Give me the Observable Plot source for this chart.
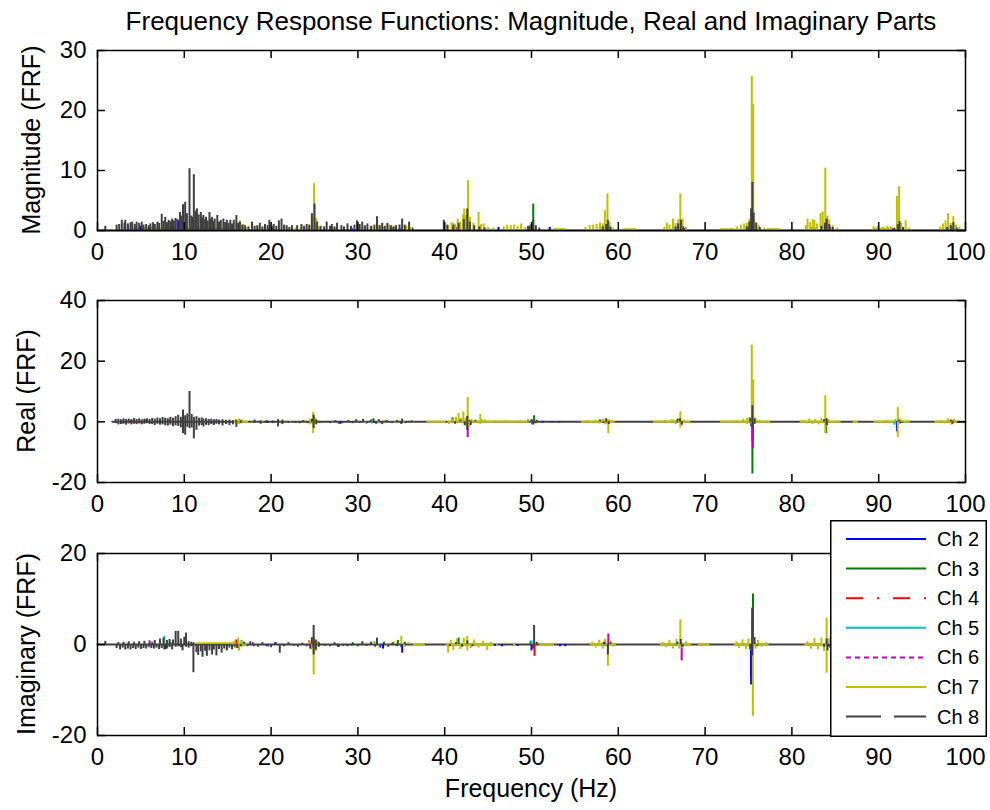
<!DOCTYPE html>
<html><head><meta charset="utf-8">
<script src="https://cdn.jsdelivr.net/npm/d3@7"></script>
<script src="https://cdn.jsdelivr.net/npm/@observablehq/plot@0.6"></script>
<style>
body{margin:0;background:#fff;}
#fig{position:relative;width:990px;height:810px;background:#fff;font-family:"Liberation Sans",Arial,Helvetica,sans-serif;color:#000;overflow:hidden}
.abs{position:absolute}
.ylab{position:absolute;white-space:nowrap;font-size:25px;line-height:1;transform:translate(-50%,-50%) rotate(-90deg)}
</style></head><body><div id="fig"></div><script>
// ---------- labels / categories ----------
const titleText = "Frequency Response Functions: Magnitude, Real and Imaginary Parts";
const xLabelText = "Frequency (Hz)";
const yLabels = ["Magnitude (FRF)", "Real (FRF)", "Imaginary (FRF)"];
const channels = ["Ch 2","Ch 3","Ch 4","Ch 5","Ch 6","Ch 7","Ch 8"];
const xTicks = [0,10,20,30,40,50,60,70,80,90,100];
const magTicks = [0,10,20,30];
const realTicks = [-20,0,20,40];
const imagTicks = [-20,0,20];

// ---------- magnitude panel: spikes [Hz, value] ----------
const mag2 = [[3.5,0.6],[5.0,0.7],[8.5,1.2],[9.3,1.6],[29.3,0.3],[34.8,0.3],[46.2,0.5],[52.1,0.5],[82.6,0.4]];
const mag3 = [[16.7,0.8],[49.6,0.7],[50.2,4.4],[75.1,0.6],[98.5,0.4]];
const mag4 = [[41.3,0.5]];
const mag5 = [[7.9,1.1],[14.8,0.5],[41.0,1.1],[49.8,0.8],[66.9,0.5],[82.3,0.5]];
const mag6 = [[6.0,0.5],[9.5,0.5],[13.3,0.6],[25.1,0.9],[33.9,0.4],[58.8,0.4],[67.6,0.3],[84.4,0.6],[91.6,0.3]];
const mag7 = [[16.0,1.2],[16.4,1.6],[16.8,1.0],[17.2,0.5],[18.6,0.4],[21.4,0.4],[22.8,0.4],[23.4,0.5],[24.4,0.7],[24.7,2.6],[24.95,7.8],[25.2,2.0],[25.5,0.6],[27.5,0.4],[30.8,0.6],[31.6,0.7],[32.5,0.9],[33.0,0.5],[33.6,0.9],[34.2,0.6],[35.6,0.7],[36.0,0.5],
 [40.4,0.8],[40.8,1.3],[41.2,1.0],[41.5,1.9],[41.8,1.4],[42.1,2.6],[42.25,3.6],[42.4,2.5],[42.7,8.3],[42.9,2.2],[43.3,1.2],[43.9,3.0],[44.2,1.0],[44.5,1.1],[45.0,0.5],[45.6,0.4],[46.8,0.6],[47.2,0.9],[47.6,0.8],[48.0,0.9],[48.4,0.7],[48.8,1.1],[49.3,0.5],[49.9,0.7],
 [56.2,0.5],[56.7,0.8],[57.1,0.9],[57.5,1.0],[57.9,1.2],[58.2,1.1],[58.45,3.3],[58.75,6.1],[59.0,1.4],[59.4,0.4],
 [65.3,0.5],[65.6,1.2],[65.9,0.9],[66.3,1.9],[66.6,1.2],[66.9,1.8],[67.15,6.1],[67.4,1.9],[67.8,0.5],
 [73.7,0.6],[74.1,0.9],[74.5,1.1],[74.8,1.2],[75.1,1.8],[75.38,25.7],[75.55,21.0],[75.8,1.4],[76.2,0.8],[76.8,0.4],[77.2,0.3],
 [81.6,0.8],[81.8,1.9],[82.1,1.3],[82.4,1.8],[82.6,1.7],[82.9,1.1],[83.3,2.8],[83.55,3.1],[83.85,10.4],[84.1,2.4],[84.3,1.7],[84.7,0.8],[85.2,0.4],
 [89.4,0.6],[89.9,0.7],[90.5,0.5],[91.0,0.7],[91.4,0.6],[92.1,5.7],[92.35,7.3],[92.6,1.2],[93.1,1.6],[93.5,0.4],
 [97.1,0.6],[97.4,1.1],[97.7,1.6],[98.0,2.8],[98.3,1.2],[98.6,2.3],[98.9,0.9],[99.3,0.5]];
const mag8 = [[0.9,0.7],[2.2,0.9],[2.5,1.0],[2.8,1.7],[3.1,1.2],[3.2,1.7],[3.5,1.1],[3.8,1.3],[4.0,1.4],[4.3,1.0],[4.5,1.4],[4.8,1.2],[5.1,1.4],[5.3,0.9],[5.6,1.0],[5.9,0.8],[6.1,1.1],[6.4,1.3],[6.6,1.0],[6.9,1.4],[7.1,1.2],[7.4,2.7],[7.6,1.5],[7.8,2.2],[8.0,1.3],[8.2,1.7],[8.4,1.5],[8.6,1.9],[8.8,1.6],[9.0,2.0],[9.2,1.8],[9.5,3.0],[9.7,2.4],[9.85,4.3],[10.1,4.7],[10.3,2.8],[10.6,10.3],[10.8,2.4],[10.95,2.2],[11.1,9.3],[11.3,3.2],[11.45,3.6],[11.65,2.6],[11.9,3.0],[12.05,2.1],[12.2,2.5],[12.4,1.8],[12.5,2.2],[12.7,1.6],[12.9,3.0],[13.05,1.9],[13.2,2.2],[13.4,1.5],[13.5,1.9],[13.8,2.5],[14.0,1.4],[14.2,1.7],[14.5,1.9],[14.7,1.3],[14.9,1.7],[15.1,1.2],[15.3,1.7],[15.5,1.1],[15.7,1.7],[16.0,2.5],[16.2,1.2],[16.4,1.4],[16.7,0.9],[17.0,0.8],[17.4,0.6],[17.8,1.4],[18.1,0.7],[18.4,0.8],[18.7,1.2],[19.0,0.6],[19.3,1.0],[19.6,0.8],[19.8,1.7],[20.1,0.7],[20.3,1.0],[20.6,0.7],[20.9,1.6],[21.2,1.9],[21.5,0.9],[21.8,0.8],[22.1,0.5],[22.4,0.8],[23.0,0.8],[23.5,1.0],[23.8,0.7],[24.1,1.0],[24.4,0.9],[24.7,2.8],[25.0,4.4],[25.3,1.4],[25.7,0.7],[26.1,0.6],[26.4,1.4],[26.8,0.7],[27.0,1.0],[27.3,0.6],[27.6,1.2],[28.1,0.8],[28.4,0.6],[28.8,1.1],[29.2,0.7],[29.6,0.9],[29.9,1.6],[30.2,1.0],[30.5,1.4],[30.8,0.8],[31.1,1.1],[31.5,0.7],[31.9,0.9],[32.2,2.3],[32.5,0.8],[32.8,1.2],[33.1,0.7],[33.4,1.2],[33.8,0.8],[34.1,0.6],[34.4,0.8],[34.8,0.9],[35.1,1.9],[35.4,0.9],[35.9,1.4],[36.3,0.4],
 [39.9,1.7],[40.3,0.9],[41.0,0.8],[41.6,1.2],[42.2,1.8],[42.6,3.6],[42.9,1.4],[43.4,0.8],[44.0,0.6],[44.6,0.4],
 [49.7,0.6],[50.0,1.0],[50.2,1.7],[50.5,0.8],[50.9,0.4],[58.2,0.6],[58.6,1.0],[58.8,1.7],[59.1,0.6],[66.6,0.6],[66.9,1.1],[67.2,1.7],[67.5,0.6],
 [74.8,0.6],[75.1,1.4],[75.3,3.6],[75.45,8.0],[75.6,2.9],[75.9,1.2],[76.3,0.5],[83.4,0.7],[83.8,1.2],[84.0,1.9],[84.3,1.0],[84.7,0.5],
 [91.8,0.4],[92.2,1.0],[92.4,1.5],[92.8,0.5],[97.9,0.5],[98.3,0.8],[98.6,1.3],[99.0,0.4]];
const mag7Segments = [[[4.0,0.35],[15.0,0.35]],[[52.6,0.2],[53.8,0.2]],[[60.6,0.2],[62.0,0.2]],[[71.8,0.2],[73.3,0.2]],[[77.2,0.2],[78.6,0.2]],[[89.4,0.3],[91.4,0.3]]];
const mag8Base = [[0,0],[100,0]];

// ---------- real panel ----------
const re2 = [[2.9,-0.4],[5.5,0.5],[7.2,-0.6],[19.6,-0.5],[22.0,-0.4],[28.0,-0.8],[31.8,-0.5],[33.8,-0.5],[35.0,-0.7],[42.9,0.4],[50.1,-1.0],[51.3,-0.4],[52.4,-0.3],[53.2,-0.3],[58.3,-0.5],[66.7,-0.5],[75.3,-1.5],[92.1,-3.3],[92.1,-1.8]];
const re3 = [[19.0,-0.5],[29.1,-0.4],[40.9,1.3],[49.6,0.6],[50.3,2.0],[50.5,-0.6],[75.45,-17.2],[75.45,-6.5],[83.95,-3.9],[92.8,-0.5]];
const re4 = [[3.7,0.3],[50.4,-0.6],[58.6,-0.6],[75.3,-1.0]];
const re5 = [[2.5,-0.6],[7.8,0.7],[12.2,-1.0],[25.0,-0.6],[31.6,-0.7],[34.3,-0.4],[44.2,0.7],[50.0,-0.6],[66.6,-0.6],[75.2,-0.7],[91.8,-1.1]];
const re6 = [[2.2,-0.5],[4.1,0.4],[5.1,-0.7],[8.3,0.6],[13.4,-0.9],[42.65,-5.2],[50.2,0.5],[58.9,0.4],[67.3,-1.3],[75.5,-8.9],[84.0,-1.2],[98.6,0.5]];
const re7 = [[15.9,0.8],[15.9,-0.5],[16.3,1.0],[16.3,-0.9],[16.7,0.6],[17.2,-0.5],[17.8,0.3],[19.0,-0.3],[21.8,0.3],[22.2,-0.2],[23.0,0.2],[24.0,0.4],
 [24.5,0.8],[24.5,-1.0],[24.85,3.1],[24.85,-3.9],[25.1,1.2],[25.1,-0.8],[25.5,0.5],
 [27.0,0.3],[30.0,0.4],[30.9,-0.5],[31.6,0.6],[32.3,-0.7],[33.0,0.5],[33.8,-0.4],[34.6,0.5],[35.3,-0.4],[36.4,0.2],
 [40.5,-0.9],[40.9,0.8],[41.3,1.5],[41.6,2.8],[41.6,-0.6],[41.9,1.2],[42.15,3.3],[42.4,1.0],[42.4,-1.5],[42.65,8.0],[42.8,-1.8],[43.1,0.8],[43.6,0.6],[44.1,2.4],[44.1,-0.9],[44.6,0.7],[45.2,-0.5],[45.8,0.4],[46.5,-0.3],[47.1,0.4],[47.8,-0.4],[48.4,0.3],[49.0,-0.5],[49.6,0.4],
 [56.4,0.4],[56.9,-0.5],[57.4,0.6],[57.8,-0.7],[58.2,0.9],[58.5,-1.0],[58.85,-3.9],[58.85,0.8],[59.2,0.5],
 [65.4,0.4],[65.8,-0.6],[66.2,0.8],[66.6,-0.9],[66.9,1.2],[67.15,3.3],[67.15,-2.0],[67.5,0.6],[68.0,-0.3],
 [73.6,0.4],[74.0,-0.6],[74.4,0.8],[74.8,1.1],[74.8,-0.9],[75.1,1.3],[75.38,25.3],[75.38,-1.2],[75.55,13.9],[75.8,1.2],[75.8,-0.7],[76.2,0.5],[76.6,-0.4],[77.3,0.2],
 [81.3,0.5],[81.7,-0.7],[82.0,0.9],[82.4,-0.9],[82.7,0.8],[83.1,-1.0],[83.4,1.2],[83.85,8.6],[83.85,-3.9],[84.2,0.8],[84.6,-0.6],[85.3,0.3],
 [89.6,0.3],[90.3,-0.4],[91.0,0.5],[91.6,-0.6],[91.9,0.8],[92.2,4.7],[92.2,-5.2],[92.5,1.0],[92.9,-0.6],[93.4,0.4],
 [97.2,0.5],[97.6,-0.7],[98.0,1.0],[98.4,-1.1],[98.7,0.9],[99.1,-0.5]];
const re8 = [[2.1,0.8],[2.1,-0.6],[2.4,0.9],[2.4,-1.0],[2.7,0.7],[2.7,-0.9],[3.0,1.0],[3.0,-0.8],[3.3,0.8],[3.3,-1.1],[3.6,0.9],[3.6,-0.7],[3.9,0.7],[3.9,-1.0],[4.2,1.1],[4.2,-0.8],[4.5,0.8],[4.5,-0.9],[4.8,1.0],[4.8,-0.7],[5.1,0.7],[5.1,-1.0],[5.4,0.9],[5.4,-0.8],[5.7,1.0],[5.7,-0.6],[6.0,0.8],[6.0,-0.9],[6.3,1.1],[6.3,-0.9],[6.6,0.9],[6.6,-1.2],[6.9,1.3],[6.9,-0.8],[7.2,1.0],[7.2,-1.1],[7.5,1.4],[7.5,-1.0],[7.8,1.2],[7.8,-1.3],[8.1,1.0],[8.1,-1.4],[8.4,1.5],[8.4,-1.1],[8.7,1.2],[8.7,-1.6],[9.0,1.7],[9.0,-1.3],[9.3,2.2],[9.3,-1.5],[9.6,1.5],[9.6,-2.0],[9.85,3.9],[9.85,-3.9],[10.1,2.0],[10.1,-4.4],[10.35,2.6],[10.35,-1.8],[10.6,10.0],[10.6,-2.2],[10.85,2.4],[10.85,-2.0],[11.1,1.5],[11.1,-5.6],[11.4,1.7],[11.4,-2.8],[11.7,1.2],[11.7,-1.4],[12.0,1.3],[12.0,-1.2],[12.2,0.9],[12.2,-1.7],[12.5,1.0],[12.5,-1.1],[12.8,0.8],[12.8,-1.3],[13.1,0.9],[13.1,-0.9],[13.4,0.7],[13.4,-1.2],[13.7,0.8],[13.7,-0.8],[14.0,0.6],[14.0,-1.0],[14.4,0.7],[14.4,-1.4],[14.8,0.5],[14.8,-0.9],[15.2,0.6],[15.2,-1.2],[15.6,0.4],[15.6,-1.0],[16.0,0.5],[16.0,-1.8],[16.5,0.4],[16.5,-0.6],
 [18.1,0.6],[18.1,-0.5],[18.8,0.3],[18.8,-0.8],[19.5,0.4],[19.5,-0.5],[20.2,0.3],[20.2,-0.6],[20.8,0.7],[20.8,-1.7],[21.3,0.6],[21.3,-0.9],[22.8,-0.5],[23.3,-0.6],[23.7,0.4],[24.2,-0.6],
 [24.7,0.9],[24.9,2.2],[24.9,-2.2],[25.2,0.6],[25.2,-1.0],[25.6,-0.5],
 [26.8,-0.6],[27.4,0.4],[27.8,-0.8],[28.2,-0.6],[28.9,0.4],[29.4,-0.6],[29.8,0.7],[30.2,-0.5],[30.6,0.8],[31.0,-0.7],[31.5,0.6],[31.8,1.0],[32.1,-0.8],[32.4,0.7],[32.8,-0.9],[33.3,0.5],[33.9,-0.6],[34.5,0.4],[35.0,-0.8],[35.1,0.9],[35.5,-0.6],[36.2,0.3],
 [41.2,-0.8],[41.8,0.6],[42.3,-1.2],[42.6,1.8],[42.6,-2.8],[43.0,-1.2],[43.5,0.4],
 [50.0,0.8],[50.2,-1.0],[50.6,0.5],[57.9,0.6],[58.6,1.0],[58.9,-0.9],[66.8,0.7],[67.1,1.0],[67.3,-0.8],[75.2,1.2],[75.45,5.3],[75.45,-2.0],[75.7,1.0],[75.7,-0.8],[83.7,0.7],[84.0,1.0],[84.0,-1.2],[92.3,0.6],[92.5,-0.7],[98.3,0.6],[98.5,-0.8]];
const re7Segments = [[[15.8,0],[17.2,0]],[[38.0,0],[40.0,0]],[[40.4,0],[49.6,0]],[[55.8,0],[59.5,0]],[[64.1,0],[68.2,0]],[[71.8,0],[77.4,0]],[[81.0,0],[85.5,0]],[[87.1,0],[87.5,0]],[[89.5,0],[93.5,0]],[[96.5,0],[99.5,0]]];
const re8Base = [[1.7,0],[100,0]];

// ---------- imaginary panel ----------
const im2 = [[7.8,-1.1],[19.6,-0.5],[20.5,0.4],[27.7,-0.6],[32.9,-1.0],[35.1,-1.9],[45.8,-0.4],[46.6,-0.5],[48.4,-0.4],[50.0,-1.4],[53.3,-0.5],[53.9,-0.5],[75.3,-8.9],[75.3,-7.0],[84.2,-0.5]];
const im3 = [[8.4,0.5],[29.3,-0.4],[34.6,0.9],[41.6,1.4],[49.9,0.7],[50.2,-1.0],[75.52,11.1],[76.0,-0.5],[84.3,0.5]];
const im4 = [[16.0,1.0],[24.4,0.8],[35.4,-0.5],[50.35,-2.6],[58.3,0.4]];
const im5 = [[7.7,1.8],[16.6,0.9],[17.2,-0.5],[31.9,0.6],[32.5,-0.6],[50.0,0.8],[58.4,-0.4],[66.6,-0.4],[84.5,0.4]];
const im6 = [[6.3,0.5],[9.6,-0.5],[17.9,0.4],[24.8,-0.8],[58.85,2.3],[67.3,-3.6],[75.47,5.0],[84.4,-0.8]];
const im7 = [[15.8,0.8],[15.9,-0.9],[16.2,1.4],[16.3,-1.5],[16.6,0.7],[16.7,-0.6],[17.3,0.3],
 [24.4,0.6],[24.6,-1.2],[24.9,-6.7],[24.95,1.6],[25.2,-1.5],[25.4,0.7],
 [30.6,0.4],[31.8,0.5],[33.4,-0.5],[34.2,0.6],[35.0,1.8],[35.3,-0.6],[35.8,0.5],
 [40.4,-1.9],[40.7,0.9],[41.0,-1.3],[41.4,1.2],[41.8,-1.1],[42.2,1.4],[42.6,1.8],[42.6,-1.4],[43.0,-0.9],[43.4,1.0],[43.9,-0.8],[44.4,0.7],[44.9,-1.3],[45.3,0.5],[46.0,-0.3],[47.0,0.3],[48.0,-0.3],
 [57.0,0.5],[57.4,-0.8],[57.8,0.9],[58.2,-1.0],[58.5,1.2],[58.8,-4.8],[59.1,0.8],[59.4,-0.5],
 [65.1,0.5],[65.5,-0.7],[65.9,0.9],[66.3,-1.0],[66.7,1.1],[67.0,-1.0],[67.15,5.4],[67.4,-0.9],[67.8,0.6],[68.2,-0.3],
 [73.6,0.6],[73.9,-0.9],[74.3,1.0],[74.7,-1.1],[75.0,1.2],[75.2,-1.3],[75.5,-15.8],[75.5,1.2],[75.8,-1.0],[76.1,0.9],[76.5,-0.6],[77.0,0.4],
 [81.8,0.6],[82.2,-1.0],[82.6,1.3],[83.0,-1.2],[83.4,1.4],[83.7,-1.5],[84.0,5.8],[84.0,-6.3],[84.3,1.3],[84.6,-0.8],
 [92.3,3.5],[92.3,-3.0],[98.0,1.0],[98.0,-1.0]];
const im8 = [[0.9,0.7],[2.2,-0.9],[2.4,0.4],[2.6,-1.2],[2.9,-0.8],[3.0,0.5],[3.2,-1.2],[3.5,-1.0],[3.6,0.6],[3.8,-1.2],[4.1,-0.9],[4.2,0.5],[4.4,-1.1],[4.7,-0.8],[4.8,0.6],[5.0,-1.1],[5.3,-0.9],[5.4,0.7],[5.6,-1.0],[5.9,-0.7],[6.0,0.8],[6.2,-0.9],[6.5,-1.0],[6.6,0.9],[6.8,-0.8],[7.1,-1.1],[7.2,1.2],[7.4,-0.9],[7.6,1.4],[7.7,-1.2],[8.0,0.9],[8.0,-1.0],[8.3,1.1],[8.3,-0.7],[8.6,-1.2],[8.7,1.0],[9.0,2.9],[9.0,-0.6],[9.3,2.9],[9.3,-0.5],[9.6,1.2],[9.6,-0.7],[9.8,-1.4],[10.0,1.6],[10.2,2.5],[10.2,-0.6],[10.5,0.6],[10.5,-0.8],[10.8,0.5],[10.8,-0.5],[11.05,-6.2],[11.05,0.4],[11.4,-1.8],[11.6,-2.4],[11.9,-1.6],[12.1,-2.8],[12.4,-1.5],[12.6,-2.6],[12.9,-1.4],[13.2,-2.3],[13.4,-1.2],[13.7,-2.5],[14.0,-1.1],[14.3,-1.9],[14.6,-1.0],[14.9,-1.4],[15.2,-0.8],[15.5,-1.2],[15.8,-0.6],[16.1,-0.9],[16.5,-0.5],[16.9,0.5],[17.3,-0.4],[17.6,0.6],[18.0,-0.5],[18.5,-0.6],[19.0,0.4],[19.5,-0.5],[20.0,-0.7],[20.5,0.4],[21.0,-1.9],[21.5,-0.5],[22.0,0.4],[22.6,-0.4],[23.1,-0.6],[23.6,0.3],[24.1,-0.5],[24.5,-1.0],[24.7,1.5],[24.9,4.2],[24.9,-2.3],[25.15,1.0],[25.15,-1.2],[25.5,0.4],[25.5,-0.6],[26.2,-0.4],[26.8,-0.5],[27.3,0.4],[27.8,-0.6],[28.3,-0.4],[28.8,-0.5],[29.4,0.4],[30.0,-0.5],[30.5,0.6],[31.0,-0.4],[31.5,0.5],[32.0,-0.6],[32.2,1.4],[32.6,-0.8],[33.0,0.5],[33.5,-0.6],[34.0,0.4],[34.5,-0.5],[35.0,-0.7],[35.4,0.5],
 [40.6,-0.5],[41.3,0.4],[42.0,-0.6],[42.6,0.8],[43.2,-0.5],
 [50.1,-0.8],[50.3,4.2],[50.6,0.5],[58.4,0.5],[58.8,-2.3],[59.1,0.4],[66.8,0.5],[67.2,1.1],[67.4,-0.6],[75.2,-1.2],[75.42,8.0],[75.42,-2.5],[75.7,1.5],[83.7,-0.6],[84.0,1.2],[84.1,-1.4],[92.3,1.2],[92.3,-1.5],[98.5,0.6],[98.5,-0.6]];
const im7Segments = [[[11.4,0.3],[16.0,0.3]],[[15.6,0],[17.0,0]],[[36.4,0],[37.6,0]],[[40.2,0],[45.5,0]],[[51.0,0],[52.5,0]],[[56.8,0],[59.6,0]],[[64.9,0],[68.3,0]],[[69.3,0],[70.4,0]],[[73.4,0],[77.2,0]],[[81.5,0],[85.0,0]],[[89.0,0],[99.5,0]]];
const im8Base = [[0,0],[100,0]];

// ---------- styles ----------
const channelColors = ["#0000ff","#008000","#ff0000","#00bfbf","#bf00bf","#bfbf00","#404040"];
const channelDash = [null, null, "17,14,2,14", null, "5,4", null, "35,13"];
const FONT = '"Liberation Sans", Arial, Helvetica, sans-serif';

const fig = document.getElementById("fig");
const W = 990, ML = 97, MR = 25;
const innerW = W - ML - MR;

function spikeRows(arrs) {
  return channels.flatMap((ch, i) => arrs[i].map(([f, v]) => ({ch, f, v})));
}

function makePanel(cfg) {
  const innerH = cfg.height - cfg.marginTop - cfg.marginBottom;
  const spikes = spikeRows(cfg.spikes);
  const segs = cfg.segments.flatMap((seg, j) => seg.map(([f, v]) => ({ch: "Ch 7", key: j, f, v})));
  const base = cfg.base.map(([f, v]) => ({ch: "Ch 8", f, v}));
  const tk = {stroke: "#000", strokeWidth: 1.5};
  const svg = Plot.plot({
    width: W, height: cfg.height,
    marginLeft: ML, marginRight: MR, marginTop: cfg.marginTop, marginBottom: cfg.marginBottom,
    style: {fontFamily: FONT, fontSize: "24px", color: "#000", background: "transparent", overflow: "visible"},
    x: {domain: [0, 100]},
    y: {domain: cfg.domain},
    color: {domain: channels, range: channelColors},
    marks: [
      Plot.line(base, {x: "f", y: "v", stroke: "ch", strokeWidth: 2}),
      Plot.line(segs, {x: "f", y: "v", z: "key", stroke: "ch", strokeWidth: 2}),
      Plot.ruleX(spikes, {x: "f", y1: () => 0, y2: "v", stroke: "ch", strokeWidth: 2}),
      Plot.frame({stroke: "#000", strokeWidth: 1.5}),
      Plot.tickX(xTicks, {x: d => d, insetTop: innerH - 8, ...tk}),
      Plot.tickX(xTicks, {x: d => d, insetBottom: innerH - 8, ...tk}),
      Plot.tickY(cfg.ticks, {y: d => d, insetRight: innerW - 8, ...tk}),
      Plot.tickY(cfg.ticks, {y: d => d, insetLeft: innerW - 8, ...tk}),
      Plot.axisX({ticks: xTicks, tickSize: 0, tickPadding: 12, label: null, tickFormat: d => String(d)}),
      Plot.axisY({ticks: cfg.ticks, tickSize: 0, tickPadding: 11, label: null, tickFormat: d => String(d)})
    ]
  });
  const holder = document.createElement("div");
  holder.className = "abs";
  holder.style.left = "0px";
  holder.style.top = cfg.top + "px";
  holder.appendChild(svg);
  fig.appendChild(holder);

  const yl = document.createElement("div");
  yl.className = "ylab";
  yl.textContent = cfg.label;
  yl.style.left = cfg.labelX + "px";
  yl.style.top = (cfg.top + cfg.marginTop + innerH / 2) + "px";
  fig.appendChild(yl);
}

// title
const title = document.createElement("div");
title.className = "abs";
title.textContent = titleText;
Object.assign(title.style, {left: ML + "px", width: innerW + "px", top: "8px", textAlign: "center", fontSize: "26px", lineHeight: "26px", whiteSpace: "nowrap"});
fig.appendChild(title);

makePanel({top: 0, height: 270, marginTop: 50, marginBottom: 40, domain: [0, 30], ticks: magTicks,
  spikes: [mag2, mag3, mag4, mag5, mag6, mag7, mag8], segments: mag7Segments, base: mag8Base, label: yLabels[0], labelX: 31});
makePanel({top: 270, height: 250, marginTop: 30, marginBottom: 38, domain: [-20, 40], ticks: realTicks,
  spikes: [re2, re3, re4, re5, re6, re7, re8], segments: re7Segments, base: re8Base, label: yLabels[1], labelX: 26});
makePanel({top: 520, height: 290, marginTop: 33, marginBottom: 75, domain: [-20, 20], ticks: imagTicks,
  spikes: [im2, im3, im4, im5, im6, im7, im8], segments: im7Segments, base: im8Base, label: yLabels[2], labelX: 26});

// x label
const xl = document.createElement("div");
xl.className = "abs";
xl.textContent = xLabelText;
Object.assign(xl.style, {left: ML + "px", width: innerW + "px", top: "776px", textAlign: "center", fontSize: "25px", lineHeight: "25px", whiteSpace: "nowrap"});
fig.appendChild(xl);

// legend
const LW = 157, LH = 217;
const leg = d3.create("svg").attr("width", LW).attr("height", LH)
  .style("position", "absolute").style("left", "830px").style("top", "520px");
leg.append("rect").attr("x", 0.75).attr("y", 0.75).attr("width", LW - 1.5).attr("height", LH - 1.5)
  .attr("fill", "#fff").attr("stroke", "#000").attr("stroke-width", 1.5);
channels.forEach((ch, i) => {
  const cy = 19 + i * 29.6;
  leg.append("line").attr("x1", 16).attr("x2", 96).attr("y1", cy).attr("y2", cy)
    .attr("stroke", channelColors[i]).attr("stroke-width", 2)
    .attr("stroke-dasharray", channelDash[i]);
  leg.append("text").attr("x", 107).attr("y", cy).attr("dy", "0.35em")
    .attr("font-family", FONT).attr("font-size", 20).attr("fill", "#000").text(ch);
});
fig.appendChild(leg.node());
</script></body></html>
